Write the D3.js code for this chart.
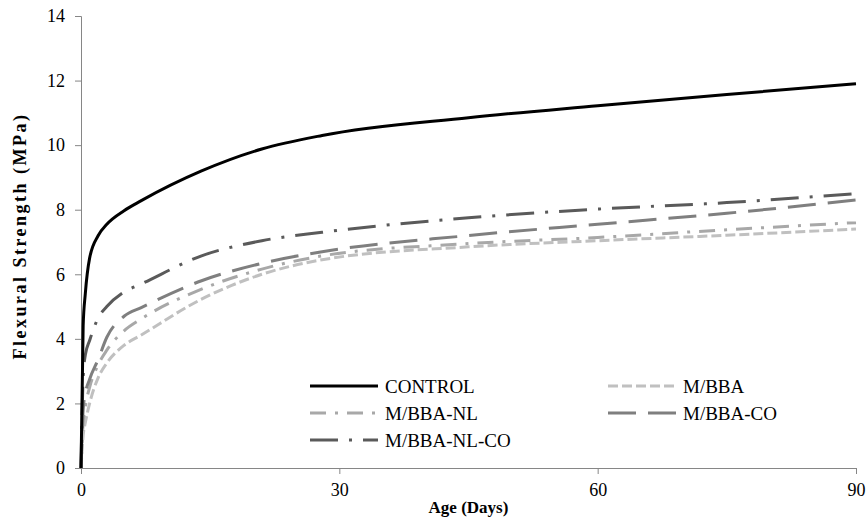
<!DOCTYPE html>
<html>
<head>
<meta charset="utf-8">
<script src="https://cdn.jsdelivr.net/npm/d3@7/dist/d3.min.js"></script>
<style>
  html, body { margin: 0; padding: 0; background: #fff; }
  svg { display: block; }
  svg text { font-family: "Liberation Serif", "DejaVu Serif", serif !important; fill: #000; }
</style>
</head>
<body>
<svg id="chart" width="867" height="522"></svg>
<script>
// Curing age (days) at which strengths are taken
const days = [0, 0.25, 0.5, 1, 2, 3, 5, 7, 14, 21, 28, 45, 60, 75, 90];

// Flexural strength (MPa) of each mix
const control   = [0, 4.4, 5.4, 6.5, 7.2, 7.55, 7.97, 8.28, 9.2, 9.88, 10.3, 10.85, 11.22, 11.57, 11.9];
const mbba      = [0, 1.0, 1.4, 2.0, 2.8, 3.25, 3.8, 4.12, 5.23, 6.0, 6.45, 6.85, 7.04, 7.21, 7.4];
const mbbaNl    = [0, 1.4, 1.9, 2.5, 3.2, 3.65, 4.25, 4.62, 5.54, 6.16, 6.57, 6.95, 7.14, 7.38, 7.6];
const mbbaCo    = [0, 1.8, 2.3, 2.75, 3.37, 4.05, 4.7, 4.97, 5.8, 6.34, 6.7, 7.2, 7.55, 7.89, 8.3];
const mbbaNlCo  = [0, 2.8, 3.5, 3.95, 4.65, 5.0, 5.45, 5.7, 6.57, 7.04, 7.3, 7.75, 8.02, 8.22, 8.5];

const seriesNames = ["CONTROL", "M/BBA", "M/BBA-NL", "M/BBA-CO", "M/BBA-NL-CO"];
const xTicks = [0, 30, 60, 90];
const yTicks = [0, 2, 4, 6, 8, 10, 12, 14];

const series = [
  { name: seriesNames[0], values: control,  color: "#000000", dash: null },
  { name: seriesNames[1], values: mbba,     color: "#c0c0c0", dash: "10,4" },
  { name: seriesNames[2], values: mbbaNl,   color: "#a8a8a8", dash: "16,9,3,9" },
  { name: seriesNames[3], values: mbbaCo,   color: "#7f7f7f", dash: "28,12" },
  { name: seriesNames[4], values: mbbaNlCo, color: "#5a5a5a", dash: "28,11,3,11" }
];

const svg = d3.select("#chart");
const x = d3.scaleLinear().domain([0, 90]).range([81, 856]);
const y = d3.scaleLinear().domain([0, 14]).range([468, 16]);
const axisColor = "#868686";
const serif = "'Liberation Serif', 'DejaVu Serif', serif";

// Y axis
const yAxis = svg.append("g")
  .attr("transform", `translate(${x(0)},0)`)
  .call(d3.axisLeft(y).tickValues(yTicks).tickSize(6).tickPadding(10).tickFormat(d3.format("d")));
yAxis.attr("font-family", serif);
yAxis.select(".domain").attr("stroke", axisColor);
yAxis.selectAll(".tick line").attr("stroke", axisColor);
yAxis.selectAll(".tick text").attr("font-size", 18);

// X axis
const xAxis = svg.append("g")
  .attr("transform", `translate(0,${y(0)})`)
  .call(d3.axisBottom(x).tickValues(xTicks).tickSize(6).tickPadding(9).tickFormat(d3.format("d")));
xAxis.attr("font-family", serif);
xAxis.select(".domain").attr("stroke", axisColor);
xAxis.selectAll(".tick line").attr("stroke", axisColor);
xAxis.selectAll(".tick text").attr("font-size", 18);

// Axis titles
svg.append("text")
  .attr("x", (x(0) + x(90)) / 2)
  .attr("y", 513)
  .attr("text-anchor", "middle")
  .attr("font-size", 17)
  .attr("font-weight", "bold")
  .text("Age (Days)");

svg.append("text")
  .attr("transform", `translate(26,${(y(0) + y(14)) / 2 - 6}) rotate(-90)`)
  .attr("text-anchor", "middle")
  .attr("font-size", 18)
  .attr("font-weight", "bold")
  .attr("letter-spacing", 2.5)
  .text("Flexural Strength (MPa)");

// Strength-development curves
const line = d3.line()
  .x((d, i) => x(days[i]))
  .y(d => y(d))
  .curve(d3.curveMonotoneX);

const drawOrder = [series[1], series[2], series[3], series[4], series[0]];
svg.append("g").selectAll("path")
  .data(drawOrder)
  .join("path")
  .attr("d", d => line(d.values))
  .attr("fill", "none")
  .attr("stroke", d => d.color)
  .attr("stroke-width", 3)
  .attr("stroke-dasharray", d => d.dash);

// Legend
const legendPos = [
  { col: 310, row: 386 },
  { col: 608, row: 386 },
  { col: 310, row: 413 },
  { col: 608, row: 413 },
  { col: 310, row: 440 }
];
const legend = svg.append("g").selectAll("g")
  .data(series)
  .join("g")
  .attr("transform", (d, i) => `translate(${legendPos[i].col},${legendPos[i].row})`);
legend.append("line")
  .attr("x1", 0).attr("x2", 68)
  .attr("y1", 0).attr("y2", 0)
  .attr("stroke", d => d.color)
  .attr("stroke-width", 3)
  .attr("stroke-dasharray", d => d.dash);
legend.append("text")
  .attr("x", 75)
  .attr("y", 0)
  .attr("dy", "0.35em")
  .attr("font-size", 19)
  .text(d => d.name);
</script>
</body>
</html>
